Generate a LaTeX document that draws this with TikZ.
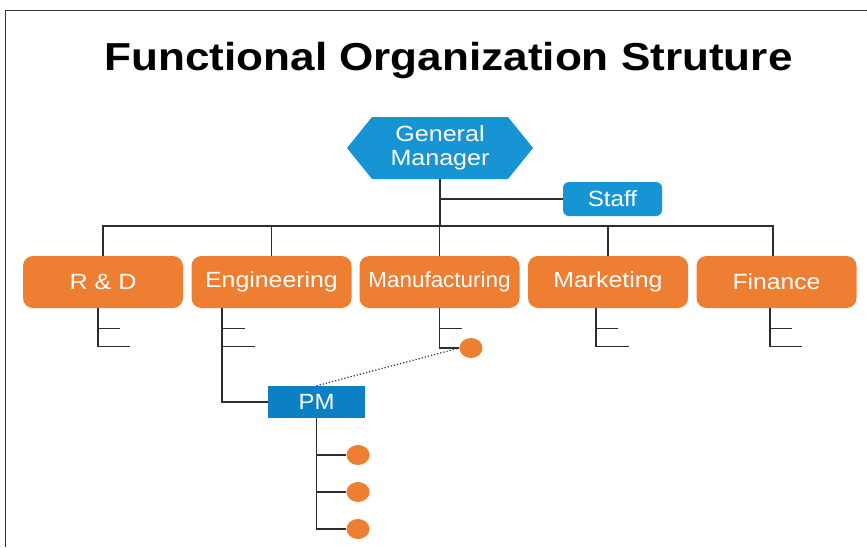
\documentclass[tikz,border=0pt]{standalone}
\usepackage{fontspec}
\usepackage{graphicx}
\setmainfont{Liberation Sans}
\usetikzlibrary{shapes.geometric}
\definecolor{gmblue}{RGB}{22,148,212}
\definecolor{pmblue}{RGB}{12,128,194}
\definecolor{orgorange}{RGB}{238,126,50}
\definecolor{linegray}{RGB}{45,45,45}
\newcommand{\wt}[2][1.13]{\scalebox{#1}[1]{#2}}
\tikzset{
  dept/.style={draw=none,fill=orgorange,rounded corners=10pt,minimum width=160pt,minimum height=52pt,inner sep=0pt,text=white,font=\fontsize{22}{25}\selectfont},
  staffbox/.style={fill=gmblue,rounded corners=6pt,minimum width=99pt,minimum height=34pt,inner sep=0pt,text=white,font=\fontsize{22}{25}\selectfont},
  pmbox/.style={fill=pmblue,minimum width=97pt,minimum height=32pt,inner sep=0pt,text=white,font=\fontsize{22}{25}\selectfont},
  dot/.style={ellipse,fill=orgorange,minimum width=23pt,minimum height=20pt,inner sep=0pt},
  conn/.style={draw=linegray,line width=1.2pt},
}
\begin{document}
\begin{tikzpicture}[x=1pt,y=-1pt]
\useasboundingbox (0,0) rectangle (867,547);
\fill[white] (0,0) rectangle (867,547);
% frame
\draw[line width=1pt,black!80] (5.5,547) -- (5.5,10.5) -- (867,10.5);
% title
\node[anchor=base,font=\fontsize{39}{44}\selectfont\bfseries,inner sep=0pt] (title) at (448.5,70) {\wt[1.13]{Functional Organization Struture}};
% general manager hexagon
\fill[gmblue] (347,148) -- (372,117) -- (508,117) -- (533,148) -- (508,179) -- (372,179) -- cycle;
\node[minimum width=186pt,minimum height=62pt,inner sep=0pt,text=white,align=center,font=\fontsize{22}{24}\selectfont] (gm) at (440,148) {\wt[1.14]{General}\\\wt[1.14]{Manager}};
% staff
\node[staffbox] (staff) at (612.5,199) {\wt[1.1]{Staff}};
% departments
\node[dept] (rd) at (103,282) {\wt[1.14]{R \& D}};
\node[dept] (eng) at (271.5,282) {\raisebox{2pt}{\wt[1.13]{Engineering}}};
\node[dept] (mfg) at (439.5,282) {\wt[1.02]{Manufacturing}};
\node[dept] (mkt) at (608,282) {\raisebox{2pt}{\wt[1.13]{Marketing}}};
\node[dept] (fin) at (776.5,282) {\wt[1.12]{Finance}};
% PM
\node[pmbox] (pm) at (316.5,402) {\wt[1.09]{PM}};
% dots
\node[dot] (e0) at (471,348) {};
\node[dot] (e1) at (358,455) {};
\node[dot] (e2) at (358,492) {};
\node[dot] (e3) at (358,529) {};
\coordinate (bus) at (440,226);
% top connectors
\draw[conn] (gm.south) -- (gm.south |- bus);
\draw[conn] (gm.south |- staff.west) -- (staff.west);
\draw[conn] (rd.north) -- (rd.north |- bus) -- ([xshift=-3.5pt]fin.north |- bus) -- ([xshift=-3.5pt]fin.north);
\draw[conn] (eng.north) -- (eng.north |- bus);
\draw[conn] (mfg.north) -- (mfg.north |- bus);
\draw[conn] (mkt.north) -- (mkt.north |- bus);
% R&D sub
\draw[conn] ([xshift=-5pt]rd.south) coordinate (rdv) -- ([yshift=-38pt]rdv) -- ++(32,0);
\draw[conn] ([yshift=-20pt]rdv) -- ++(22,0);
% Engineering sub
\draw[conn] ([xshift=-49.5pt]eng.south) coordinate (engv) -- (engv |- pm.west) -- (pm.west);
\draw[conn] ([yshift=-20pt]engv) -- ++(23,0);
\draw[conn] ([yshift=-38pt]engv) -- ++(33,0);
% Manufacturing sub
\draw[conn] (mfg.south) coordinate (mfgv) -- (mfgv |- e0.west) -- (e0.west);
\draw[conn] ([yshift=-20pt]mfgv) -- ++(22,0);
% Marketing sub
\draw[conn] ([xshift=-12pt]mkt.south) coordinate (mktv) -- ([yshift=-38pt]mktv) -- ++(33,0);
\draw[conn] ([yshift=-20pt]mktv) -- ++(22,0);
% Finance sub
\draw[conn] ([xshift=-6.5pt]fin.south) coordinate (finv) -- ([yshift=-38pt]finv) -- ++(32,0);
\draw[conn] ([yshift=-20pt]finv) -- ++(22,0);
% dotted link
\draw[linegray,line width=1.2pt,dotted] (pm.north) -- (e0.west);
% PM children
\draw[conn] (pm.south) -- (pm.south |- e3.west) -- (e3.west);
\draw[conn] (pm.south |- e1.west) -- (e1.west);
\draw[conn] (pm.south |- e2.west) -- (e2.west);
\end{tikzpicture}
\end{document}
